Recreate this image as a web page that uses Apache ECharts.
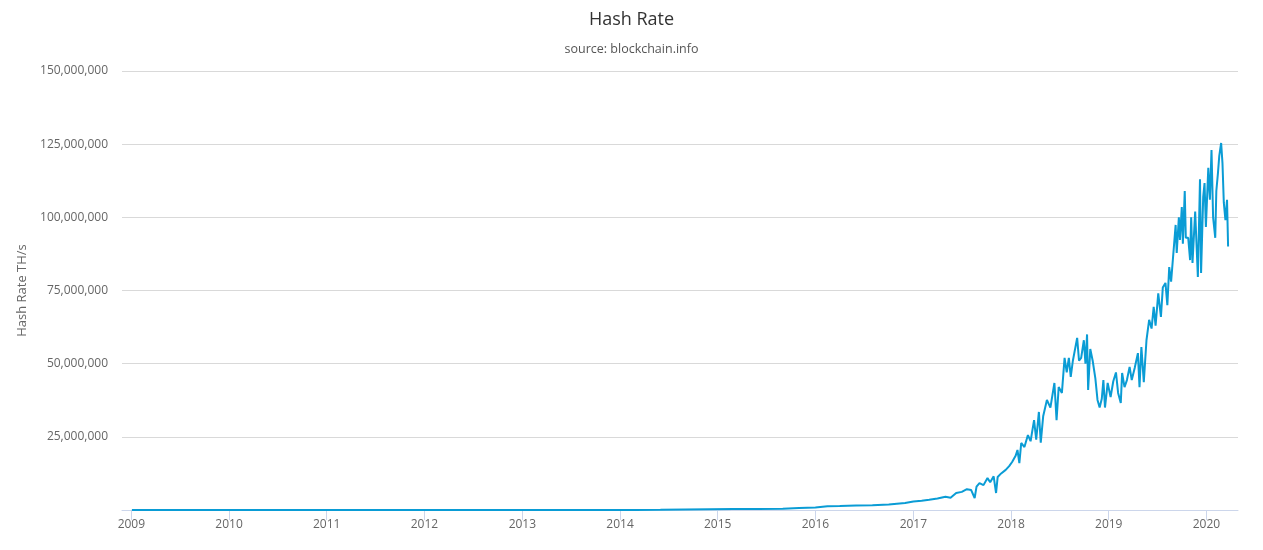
<!DOCTYPE html>
<html>
<head>
<meta charset="utf-8">
<script src="https://cdn.jsdelivr.net/npm/echarts@6/dist/echarts.min.js"></script>
<style>
html,body{margin:0;padding:0;background:#fff;}
#chart{width:1263px;height:550px;}
</style>
</head>
<body>
<div id="chart"></div>
<script>
const titleText = 'Hash Rate';
const subtitleText = 'source: blockchain.info';
const yAxisName = 'Hash Rate TH/s';
const yearTicks = ['2009','2010','2011','2012','2013','2014','2015','2016','2017','2018','2019','2020'];
const yTicks = [0, 25000000, 50000000, 75000000, 100000000, 125000000, 150000000];

const dates = [
'2009-01-03','2009-07-01','2010-01-01','2010-07-01','2010-12-01','2011-06-01','2012-01-01','2012-07-01',
'2013-01-01','2013-06-01','2013-12-01','2014-03-01','2014-06-01','2014-09-01','2014-12-01','2015-03-01',
'2015-06-01','2015-09-01','2015-11-01','2016-01-01','2016-02-15','2016-04-01','2016-06-01','2016-08-01',
'2016-10-01','2016-12-01','2017-01-01','2017-02-01','2017-03-01','2017-04-01','2017-05-01','2017-05-20',
'2017-06-10','2017-07-01','2017-07-20','2017-08-05','2017-08-18','2017-08-25','2017-09-05','2017-09-20',
'2017-10-05','2017-10-15','2017-10-28','2017-11-06','2017-11-12','2017-11-25','2017-12-12','2017-12-25',
'2018-01-05','2018-01-18','2018-01-25','2018-02-01','2018-02-08','2018-02-20','2018-03-05','2018-03-15',
'2018-03-28','2018-04-05','2018-04-15','2018-04-22','2018-05-01','2018-05-15','2018-05-28','2018-06-12',
'2018-06-20','2018-06-28','2018-07-10','2018-07-20','2018-07-28','2018-08-05','2018-08-12','2018-08-20',
'2018-09-05','2018-09-12','2018-09-20','2018-09-30','2018-10-06','2018-10-12','2018-10-16','2018-10-24',
'2018-11-02','2018-11-12','2018-11-20','2018-11-28','2018-12-06','2018-12-12','2018-12-18','2018-12-28',
'2019-01-08','2019-01-18','2019-01-28','2019-02-05','2019-02-15','2019-02-20','2019-03-01','2019-03-10',
'2019-03-20','2019-03-28','2019-04-08','2019-04-20','2019-04-26','2019-05-03','2019-05-12','2019-05-22',
'2019-06-01','2019-06-10','2019-06-18','2019-06-25','2019-07-05','2019-07-15','2019-07-22','2019-08-01',
'2019-08-08','2019-08-15','2019-08-22','2019-09-08','2019-09-12','2019-09-20','2019-09-24','2019-10-01',
'2019-10-05','2019-10-12','2019-10-16','2019-10-25','2019-11-01','2019-11-05','2019-11-10','2019-11-20',
'2019-11-30','2019-12-08','2019-12-12','2019-12-20','2019-12-25','2019-12-30','2020-01-08','2020-01-14',
'2020-01-20','2020-01-26','2020-02-03','2020-02-07','2020-02-13','2020-02-18','2020-02-25','2020-03-01',
'2020-03-06','2020-03-12','2020-03-18','2020-03-22'
];

const hashRate = [
0.000005,0.00001,0.00005,0.0002,0.003,10,9,15,
25,100,5000,40000,100000,200000,280000,340000,
380000,450000,650000,850000,1300000,1400000,1550000,1600000,
1900000,2400000,2900000,3200000,3500000,3900000,4500000,4200000,
5800000,6200000,7100000,6800000,4100000,8000000,9200000,8500000,
10900000,9500000,11500000,5800000,11300000,12500000,13700000,15000000,
16400000,18500000,20500000,16000000,22900000,21500000,25600000,23500000,
30700000,24000000,33500000,23000000,32000000,37600000,35000000,43400000,
30700000,42000000,40000000,52000000,47000000,52000000,45500000,51000000,
58800000,51000000,52000000,58000000,50000000,60000000,41000000,55000000,
51000000,45000000,37600000,35000000,38000000,44400000,35000000,43400000,
38600000,44000000,47000000,40000000,36600000,46800000,42000000,44400000,
48900000,44400000,48500000,53600000,42000000,55700000,43700000,58000000,
65000000,62000000,69400000,63000000,74000000,66000000,76000000,77600000,
70000000,83000000,78000000,97400000,87800000,100000000,92300000,103500000,
91000000,109000000,93000000,93000000,85400000,100000000,84400000,102000000,
79600000,113000000,81000000,107000000,111700000,96700000,116900000,106000000,
123000000,100000000,93000000,109000000,115000000,121000000,125400000,118500000,
105000000,99000000,106000000,90000000
];

const FONT = '"Open Sans", "DejaVu Sans", sans-serif';
const toTs = s => +echarts.time.parse(s);
const seriesData = dates.map((d, i) => [toTs(d), hashRate[i]]);
const yearTs = yearTicks.map(y => toTs(y + '-01-01'));
const DAY = 86400000;
const xMin = toTs(dates[0]) - 37 * DAY;
const xMax = toTs(dates[dates.length - 1]) + 37 * DAY;

const chart = echarts.init(document.getElementById('chart'), null, {renderer: 'canvas'});
chart.setOption({
  animation: false,
  backgroundColor: '#ffffff',
  title: {
    text: titleText,
    subtext: subtitleText,
    left: 'center',
    top: 6,
    itemGap: 14,
    textStyle: {fontFamily: FONT, fontSize: 18, fontWeight: 'normal', color: '#333333'},
    subtextStyle: {fontFamily: FONT, fontSize: 12.5, color: '#555555'}
  },
  grid: {left: 122, right: 25, top: 71, bottom: 40, containLabel: false},
  xAxis: {
    type: 'value',
    min: xMin,
    max: xMax,
    axisLine: {show: true, lineStyle: {color: '#ccd6eb', width: 1}},
    axisTick: {show: true, length: 10, customValues: yearTs, lineStyle: {color: '#ccd6eb'}},
    axisLabel: {
      customValues: yearTs,
      formatter: v => String(new Date(v).getFullYear()),
      fontFamily: FONT, fontSize: 12, color: '#666666', margin: 9
    },
    splitLine: {show: false}
  },
  yAxis: {
    type: 'value',
    min: yTicks[0],
    max: yTicks[yTicks.length - 1],
    interval: yTicks[1] - yTicks[0],
    name: yAxisName,
    nameLocation: 'middle',
    nameGap: 86,
    nameTextStyle: {fontFamily: FONT, fontSize: 13, color: '#666666'},
    axisLine: {show: false},
    axisTick: {show: false},
    axisLabel: {
      formatter: v => v === 0 ? '' : v.toLocaleString('en-US'),
      fontFamily: FONT, fontSize: 12, color: '#666666', margin: 14
    },
    splitLine: {show: true, lineStyle: {color: '#d9d9d9', width: 1}}
  },
  series: [{
    type: 'line',
    data: seriesData,
    showSymbol: false,
    symbol: 'none',
    lineStyle: {color: '#0a9cd5', width: 2},
    itemStyle: {color: '#0a9cd5'}
  }]
});
</script>
</body>
</html>
